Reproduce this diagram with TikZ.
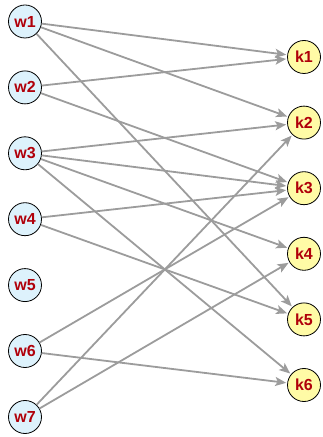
\documentclass[tikz,border=0pt]{standalone}
\usepackage{fontspec}
\setmainfont{Liberation Sans}
\usetikzlibrary{arrows.meta}
\definecolor{wfill}{HTML}{DDF2FC}
\definecolor{kfill}{HTML}{FFFBA6}
\definecolor{lbl}{HTML}{B0000A}
\definecolor{edge}{HTML}{9C9C9C}
\tikzset{
  wnode/.style={circle,draw=black,line width=0.8pt,fill=wfill,minimum size=33pt,inner sep=0pt,font=\bfseries\fontsize{16}{16}\selectfont,text=lbl},
  knode/.style={circle,draw=black,line width=0.8pt,fill=kfill,minimum size=33pt,inner sep=0pt,font=\bfseries\fontsize{16}{16}\selectfont,text=lbl},
  link/.style={draw=edge,line width=1.8pt,-{Stealth[length=11pt,width=9pt,inset=2.5pt]},shorten >=1pt}
}
\begin{document}
\begin{tikzpicture}[x=1pt,y=1pt]
\useasboundingbox (0,0) rectangle (323,437);
\foreach \i/\y in {1/21.5,2/87.4,3/153.3,4/219.2,5/285.1,6/351,7/417}
  \node[wnode] (w\i) at (25,437-\y) {w\i};
\foreach \j/\y in {1/57,2/122.6,3/188.2,4/253.8,5/319.4,6/385}
  \node[knode] (k\j) at (304,437-\y) {k\j};
\foreach \a/\b in {w1/k1,w1/k2,w1/k5,w2/k1,w2/k3,w3/k2,w3/k3,w3/k4,w3/k6,w4/k3,w4/k5,w6/k3,w6/k6,w7/k2,w7/k4}
  \draw[link] (\a) -- (\b);
\end{tikzpicture}
\end{document}
